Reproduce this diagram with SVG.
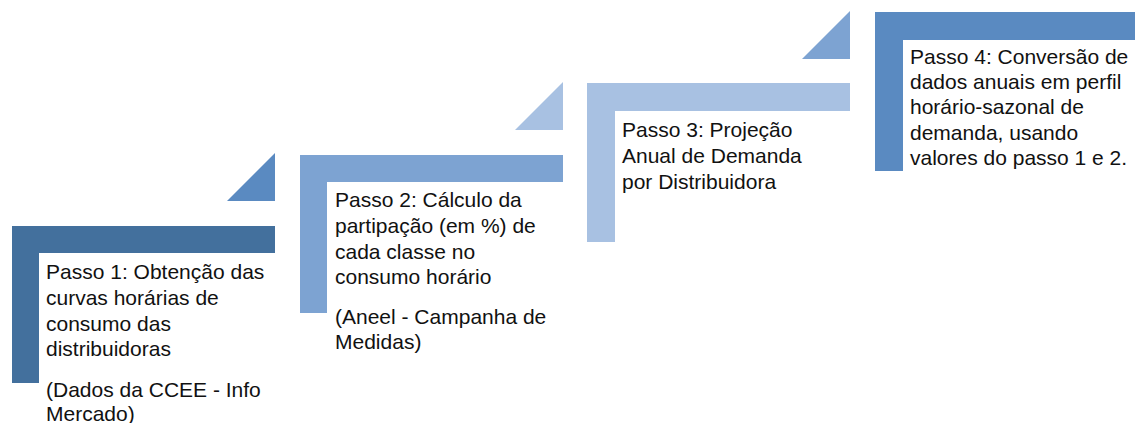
<svg xmlns="http://www.w3.org/2000/svg" width="1135" height="423" viewBox="0 0 1135 423">
<style>
  .t { font-family: "Liberation Sans", Arial, sans-serif; font-size: 21px; fill: #111111; }
  .c1 { fill: #43709D; }
  .c2 { fill: #7DA3D2; }
  .c3 { fill: #A8C1E2; }
  .c4 { fill: #5A8AC1; }
</style>
<rect width="1135" height="423" fill="#ffffff"/>
<g id="step1">
  <path class="c1" d="M12,226 H275 V253 H39 V383 H12 Z"/>
  <path class="c4" d="M227,201 L275,153 L275,201 Z"/>
  <text class="t" x="46" y="279">Passo 1: Obtenção das</text>
  <text class="t" x="46" y="305">curvas horárias de</text>
  <text class="t" x="46" y="331">consumo das</text>
  <text class="t" x="46" y="356">distribuidoras</text>
  <text class="t" x="46" y="397">(Dados da CCEE - Info</text>
  <text class="t" x="46" y="421">Mercado)</text>
</g>
<g id="step2">
  <path class="c2" d="M300,155 H563 V182 H327 V313 H300 Z"/>
  <path class="c3" d="M515,130 L563,82 L563,130 Z"/>
  <text class="t" x="335" y="207">Passo 2: Cálculo da</text>
  <text class="t" x="335" y="233">partipação (em %) de</text>
  <text class="t" x="335" y="259">cada classe no</text>
  <text class="t" x="335" y="284">consumo horário</text>
  <text class="t" x="335" y="324">(Aneel - Campanha de</text>
  <text class="t" x="335" y="349">Medidas)</text>
</g>
<g id="step3">
  <path class="c3" d="M587,83 H850 V111 H615 V242 H587 Z"/>
  <path class="c2" d="M802,59 L850,11 L850,59 Z"/>
  <text class="t" x="622" y="137">Passo 3: Projeção</text>
  <text class="t" x="622" y="163">Anual de Demanda</text>
  <text class="t" x="622" y="189">por Distribuidora</text>
</g>
<g id="step4">
  <path class="c4" d="M875,12 H1138 V40 H903 V171 H875 Z"/>
  <text class="t" x="910" y="64">Passo 4: Conversão de</text>
  <text class="t" x="910" y="89">dados anuais em perfil</text>
  <text class="t" x="910" y="114">horário-sazonal de</text>
  <text class="t" x="910" y="140">demanda, usando</text>
  <text class="t" x="910" y="165">valores do passo 1 e 2.</text>
</g>
<g id="connectors"></g>
</svg>
